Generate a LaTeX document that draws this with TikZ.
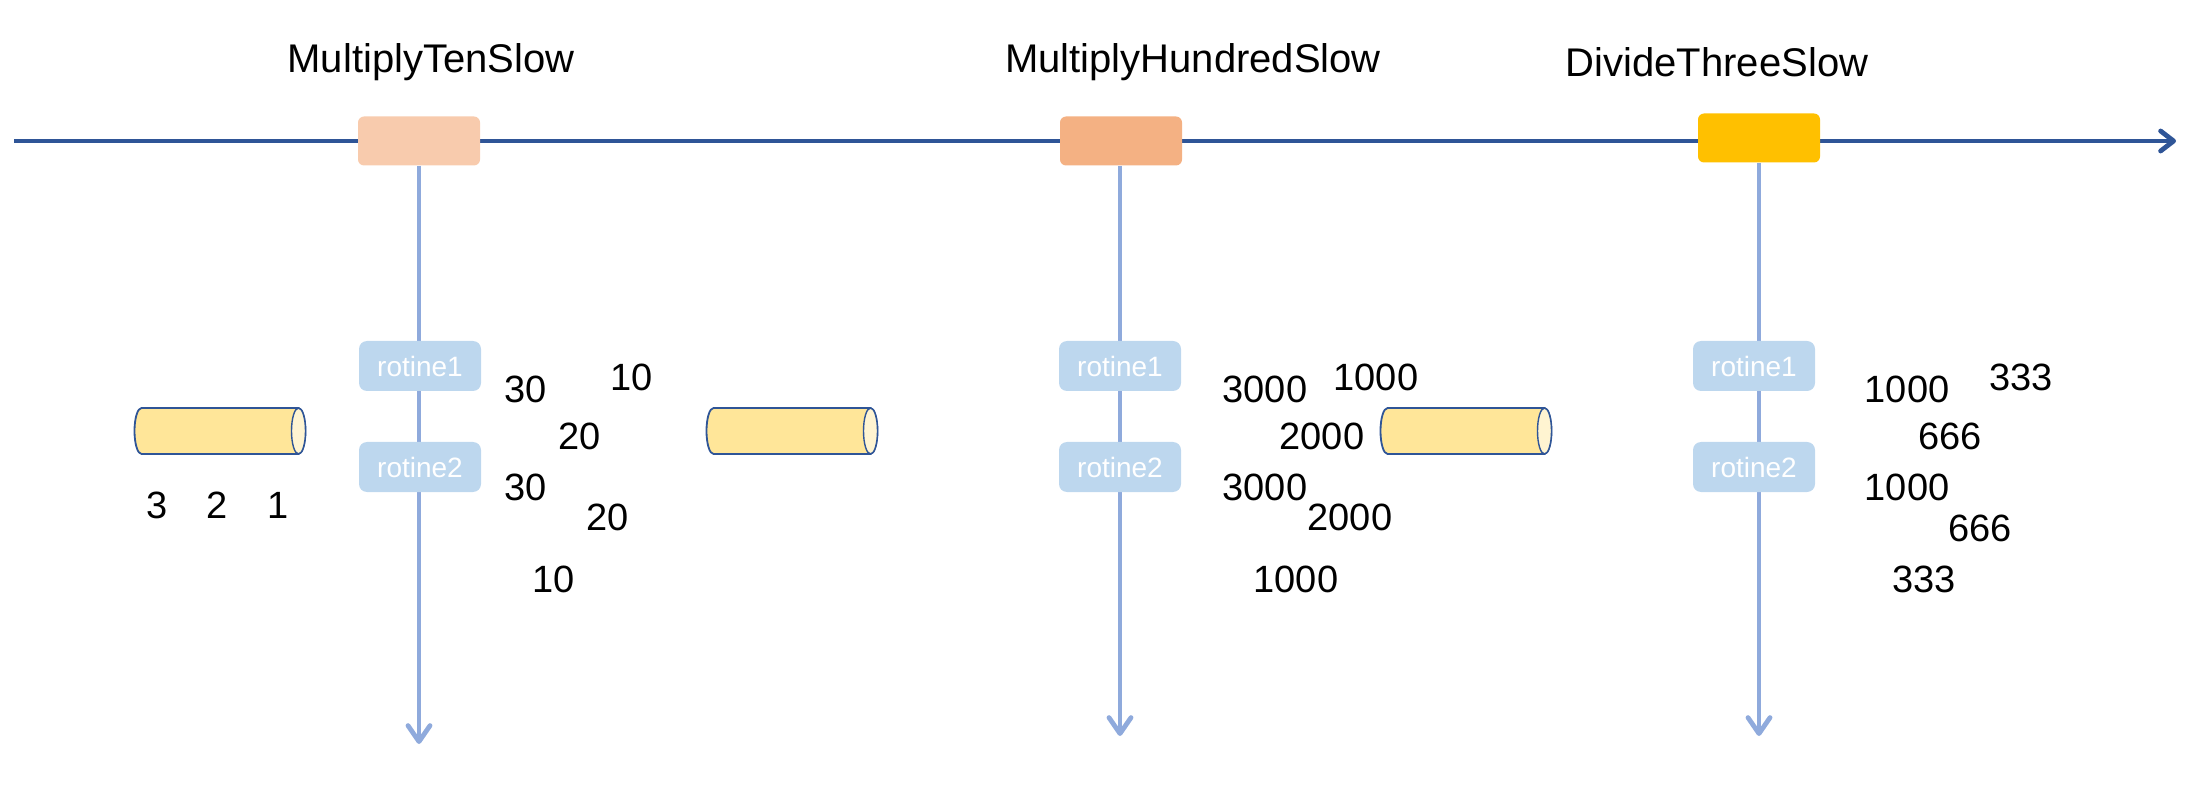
\documentclass[tikz,border=0pt]{standalone}
\usepackage{fontspec}
\setmainfont{Liberation Sans}
\usetikzlibrary{arrows.meta}
\definecolor{axisblue}{HTML}{2F5597}
\definecolor{vline}{HTML}{8FAADC}
\definecolor{boxA}{HTML}{F8CBAD}
\definecolor{boxB}{HTML}{F4B183}
\definecolor{boxC}{HTML}{FFC000}
\definecolor{rotfill}{HTML}{BDD7EE}
\definecolor{cylfill}{HTML}{FFE699}
\tikzset{
  stage/.style={rounded corners=3pt, minimum width=61pt, minimum height=24.5pt, inner sep=0pt},
  rot/.style={fill=rotfill, rounded corners=4pt, minimum width=61pt, minimum height=25pt, inner sep=0pt, text=white, font=\fontsize{14}{16}\selectfont},
  title/.style={font=\fontsize{20}{24}\selectfont},
  num/.style={font=\fontsize{19}{22}\selectfont, inner sep=0pt},
  pipeline/.style={draw=axisblue, line width=0.9pt},
  vert/.style={vline, line width=2pt, -{Straight Barb[length=8pt,width=11pt,line width=2.4pt,round]}},
}
\newcommand{\drawpipe}[3]{%
  \coordinate (#1) at (#2,#3);
  \filldraw[pipeline, fill=cylfill]
    ([xshift=-39.25pt,yshift=11.5pt]#1) arc[start angle=90,end angle=270,x radius=3.5pt,y radius=11.5pt]
    -- ([xshift=39.25pt,yshift=-11.5pt]#1) arc[start angle=-90,end angle=90,x radius=3.5pt,y radius=11.5pt]
    -- cycle;
  \filldraw[pipeline, fill=cylfill!45!white, line width=0.7pt]
    ([xshift=39.25pt]#1) ellipse[x radius=3.5pt,y radius=11.5pt];
}
\begin{document}
\begin{tikzpicture}[x=0.5pt,y=-0.5pt]
\useasboundingbox (0,0) rectangle (2192,786);
% main axis
\coordinate (ax0) at (14,141);
\coordinate (ax1) at (2176,141);
\draw[axisblue, line width=2.4pt, -{Straight Barb[length=6.5pt,width=10pt,line width=2.4pt,round]}] (ax0) -- (ax1);
% stages
\node[stage, fill=boxA] (b1) at (419,141) {};
\node[stage, fill=boxB] (b2) at (1121,141) {};
\node[stage, fill=boxC] (b3) at (1759,138) {};
\node[title] (t1) at (431,62) {MultiplyTenSlow};
\node[title] (t2) at (1193,62) {MultiplyHundredSlow};
\node[title] (t3) at (1717,62) {DivideThreeSlow};
% vertical arrows
\coordinate (e1) at (419,744);
\coordinate (e2) at (1120,736);
\coordinate (e3) at (1759,736);
\draw[vert] (b1.south -| e1) -- (e1);
\draw[vert] (b2.south -| e2) -- (e2);
\draw[vert] (b3.south -| e3) -- (e3);
% routines
\node[rot] (r11) at (420,366) {rotine1};
\node[rot] (r12) at (420,467) {rotine2};
\node[rot] (r21) at (1120,366) {rotine1};
\node[rot] (r22) at (1120,467) {rotine2};
\node[rot] (r31) at (1754,366) {rotine1};
\node[rot] (r32) at (1754,467) {rotine2};
% pipes
\drawpipe{c1}{220}{431}
\drawpipe{c2}{792}{431}
\drawpipe{c3}{1466}{431}
% numbers column 1
\node[num] (n1) at (157,505) {3};
\node[num] (n2) at (217,505) {2};
\node[num] (n3) at (278,505) {1};
\node[num] (a1) at (526,389) {30};
\node[num] (a2) at (632,377) {10};
\node[num] (a3) at (580,436) {20};
\node[num] (a4) at (526,487) {30};
\node[num] (a5) at (608,517) {20};
\node[num] (a6) at (554,579) {10};
% column 2
\node[num] (m1) at (1265,389) {3000};
\node[num] (m2) at (1376,377) {1000};
\node[num] (m3) at (1322,436) {2000};
\node[num] (m4) at (1265,487) {3000};
\node[num] (m5) at (1350,517) {2000};
\node[num] (m6) at (1296,579) {1000};
% column 3
\node[num] (d1) at (1907,389) {1000};
\node[num] (d2) at (2021,377) {333};
\node[num] (d3) at (1950,436) {666};
\node[num] (d4) at (1907,487) {1000};
\node[num] (d5) at (1980,528) {666};
\node[num] (d6) at (1924,579) {333};
\end{tikzpicture}
\end{document}
